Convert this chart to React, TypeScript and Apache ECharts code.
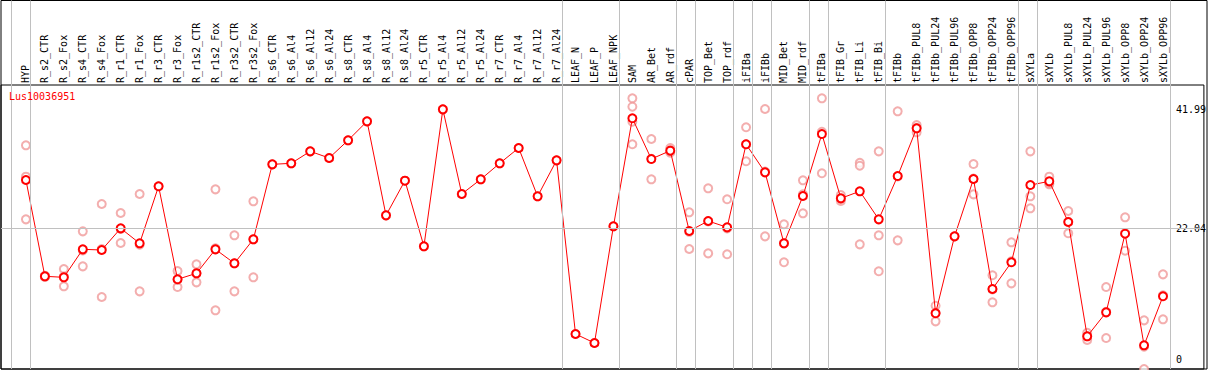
import React, { useEffect, useRef } from "react";
import * as echarts from "echarts";

const title = "Lus10036951";

const categories = [
  "HYP", "R_s2_CTR", "R_s2_Fox", "R_s4_CTR", "R_s4_Fox", "R_r1_CTR", "R_r1_Fox", "R_r3_CTR", "R_r3_Fox",
  "R_r1s2_CTR", "R_r1s2_Fox", "R_r3s2_CTR", "R_r3s2_Fox", "R_s6_CTR", "R_s6_Al4", "R_s6_Al12", "R_s6_Al24",
  "R_s8_CTR", "R_s8_Al4", "R_s8_Al12", "R_s8_Al24", "R_r5_CTR", "R_r5_Al4", "R_r5_Al12", "R_r5_Al24",
  "R_r7_CTR", "R_r7_Al4", "R_r7_Al12", "R_r7_Al24", "LEAF_N", "LEAF_P", "LEAF_NPK", "SAM", "AR_Bet", "AR_rdf",
  "cPAR", "TOP_Bet", "TOP_rdf", "iFIBa", "iFIBb", "MID_Bet", "MID_rdf", "tFIBa", "tFIB_Gr", "tFIB_Li", "tFIB_Bi",
  "tFIBb", "tFIBb_PUL8", "tFIBb_PUL24", "tFIBb_PUL96", "tFIBb_OPP8", "tFIBb_OPP24", "tFIBb_OPP96",
  "sXYLa", "sXYLb", "sXYLb_PUL8", "sXYLb_PUL24", "sXYLb_PUL96", "sXYLb_OPP8", "sXYLb_OPP24", "sXYLb_OPP96",
];

const means = [
  30.14, 14.0, 13.83, 18.52, 18.41, 22.04, 19.53, 29.09, 13.5, 14.5,
  18.52, 16.18, 20.2, 32.77, 32.94, 34.95, 33.83, 36.8, 39.98, 24.22,
  30.03, 19.03, 41.99, 27.8, 30.26, 32.94, 35.51, 27.41, 33.44, 4.33,
  2.82, 22.38, 40.49, 33.66, 35.06, 21.59, 23.27, 22.21, 36.13, 31.43,
  19.53, 27.46, 37.85, 27.07, 28.25, 23.55, 30.81, 38.81, 7.8, 20.7,
  30.31, 11.87, 16.35, 29.3, 29.92, 23.1, 3.94, 7.96, 21.14, 2.43, 10.65,
];

const replicates: number[][] = [
  [35.96, 30.7, 23.55], [14.1, 13.9, 14.0], [15.22, 12.32, 13.95], [21.54, 15.67, 18.35],
  [26.12, 10.53, 18.58], [24.61, 19.58, 21.93], [27.8, 11.48, 19.31], [29.09],
  [14.89, 12.2, 13.41], [16.01, 12.99, 14.5], [28.58, 8.3, 18.68], [20.87, 11.48, 16.19],
  [26.57, 13.83, 20.2], [32.77], [32.94], [34.95], [33.83], [36.8], [39.98], [24.22],
  [30.03], [19.03], [41.99], [27.8], [30.26], [32.94], [35.51], [27.41], [33.44], [4.33],
  [2.82], [22.38], [43.84, 42.43, 39.92, 36.13], [37.02, 30.26, 33.7], [35.51, 34.72, 34.95],
  [24.73, 18.58, 21.46], [28.75, 17.85, 23.21], [26.91, 17.69, 22.03], [38.98, 33.28, 36.13],
  [42.05, 20.7, 31.54], [22.72, 16.35, 19.52], [30.09, 24.56, 27.73], [43.84, 38.24, 31.27],
  [27.63, 26.62, 27.0], [33.04, 32.54, 19.36], [34.95, 20.87, 14.84], [41.66, 20.03, 30.74],
  [39.36, 38.14, 38.9], [9.07, 6.45, 7.88], [20.7], [32.82, 27.74, 30.37], [14.17, 9.64, 11.8],
  [19.7, 12.82, 16.53], [34.95, 27.41, 25.4], [30.7, 29.42, 29.6], [24.95, 21.21, 23.14],
  [4.54, 3.32, 3.96], [12.2, 3.65, 8.03], [23.89, 18.29, 21.24], [6.62, -1.54, 2.21],
  [14.33, 6.79, 10.83],
];

const yTickValues = [0, 22.04, 41.99];
const referenceValue = 22.04;
// indices of the last category in each group (separator drawn just after)
const groupEnds = [-1, 0, 28, 31, 34, 35, 37, 38, 39, 41, 42, 45, 52, 53, 60];

const X_MIN = -25 / 19;
const X_MAX = 1181 / 19;
const Y_MIN = -1.54;
const Y_MAX = 46.07;
const FONT = "DejaVu Sans Mono";

export default function App() {
  const ref = useRef<HTMLDivElement>(null);

  useEffect(() => {
    if (!ref.current) return;
    const chart = echarts.init(ref.current, undefined, { renderer: "svg" });

    const repData: number[][] = [];
    replicates.forEach((vals, i) => vals.forEach((v) => repData.push([i, v])));

    chart.setOption({
      animation: false,
      backgroundColor: "#fff",
      title: {
        text: title,
        left: 9,
        top: 91,
        padding: 0,
        textStyle: { color: "#ff0000", fontFamily: FONT, fontSize: 10, fontWeight: "normal" },
      },
      grid: [
        { left: 1, right: 2, top: 0.5, bottom: 1, show: true, borderColor: "#000", borderWidth: 1, backgroundColor: "transparent" },
        { left: 1, right: 2, top: 85, bottom: 1, show: true, borderColor: "#000", borderWidth: 1, backgroundColor: "transparent" },
      ],
      xAxis: [
        { gridIndex: 0, type: "value", min: X_MIN, max: X_MAX, show: false },
        {
          gridIndex: 1,
          type: "value",
          min: X_MIN,
          max: X_MAX,
          position: "top",
          axisLine: { show: false },
          axisTick: { show: false },
          splitLine: { show: false },
          axisLabel: {
            customValues: categories.map((_, i) => i),
            formatter: (v: number) => categories[Math.round(v)] ?? "",
            rotate: 90,
            margin: 2,
            fontFamily: FONT,
            fontSize: 10,
            color: "#000",
          },
        },
      ],
      yAxis: [
        { gridIndex: 0, type: "value", min: 0, max: 1, show: false },
        {
          gridIndex: 1,
          type: "value",
          min: Y_MIN,
          max: Y_MAX,
          position: "right",
          offset: -29,
          axisLine: { show: false },
          axisTick: { show: false },
          splitLine: { show: false },
          axisLabel: {
            customValues: yTickValues,
            formatter: (v: number) => String(v),
            margin: 1,
            fontFamily: FONT,
            fontSize: 10,
            color: "#000",
          },
        },
      ],
      series: [
        {
          type: "line",
          xAxisIndex: 0,
          yAxisIndex: 0,
          data: [[0, -5]],
          symbol: "none",
          lineStyle: { opacity: 0 },
          silent: true,
          markLine: {
            silent: true,
            symbol: ["none", "none"],
            label: { show: false },
            lineStyle: { color: "#c0c0c0", width: 1, type: "solid" },
            data: groupEnds.map((i) => ({ xAxis: i + 0.23 })),
          },
        },
        {
          type: "scatter",
          xAxisIndex: 1,
          yAxisIndex: 1,
          data: repData,
          symbol: "emptyCircle",
          symbolSize: 8,
          itemStyle: { color: "#f09a9a", borderWidth: 1.2 },
          silent: true,
          markLine: {
            silent: true,
            symbol: ["none", "none"],
            label: { show: false },
            lineStyle: { color: "#c0c0c0", width: 1, type: "solid" },
            data: [{ yAxis: referenceValue }],
          },
        },
        {
          type: "line",
          xAxisIndex: 1,
          yAxisIndex: 1,
          data: means.map((v, i) => [i, v]),
          symbol: "emptyCircle",
          symbolSize: 8,
          showAllSymbol: true,
          lineStyle: { color: "#ff0000", width: 1 },
          itemStyle: { color: "#ff0000", borderWidth: 1.4 },
          silent: true,
          z: 3,
        },
      ],
    });

    return () => chart.dispose();
  }, []);

  return (
    <div
      ref={ref}
      style={{ position: "fixed", left: 0, top: 0, width: 1209, height: 370 }}
    />
  );
}
